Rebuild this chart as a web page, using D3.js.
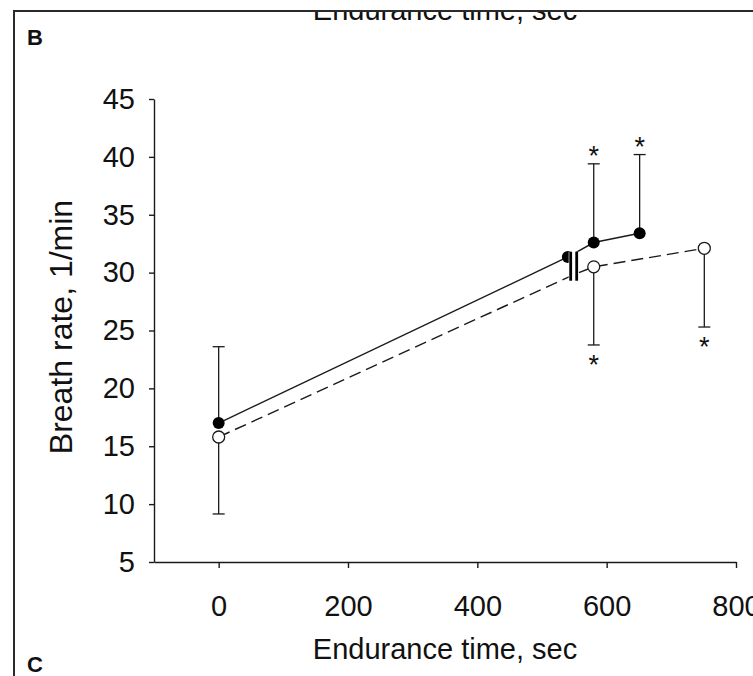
<!DOCTYPE html>
<html>
<head>
<meta charset="utf-8">
<script src="https://cdn.jsdelivr.net/npm/d3@7"></script>
<style>
    body { margin: 0; background: #fff; }
    svg { display: block; font-family: "Liberation Sans", Arial, sans-serif; }
</style>
</head>
<body>
<div id="chart-area" style="width:753px;height:676px;"></div>
<script>

// axis ticks
const xTicks = [0, 200, 400, 600, 800];
const yTicks = [5, 10, 15, 20, 25, 30, 35, 40, 45];

// filled circles, solid line (error bars up)
const filledTime = [0, 540, 580, 651];
const filledRate = [17.0, 31.35, 32.6, 33.4];
const filledErrTop = [23.6, null, 39.4, 40.2];
const filledStar = [false, false, true, true];

// open circles, dashed line (error bars down)
const openTime = [0, 552, 580, 751];
const openRate = [15.8, 29.9, 30.5, 32.1];
const openErrBottom = [9.15, null, 23.75, 25.3];
const openStar = [false, false, true, true];
const openMarker = [true, false, true, true];

// break mark between groups
const breakTime = 549;
const breakRate = [29.3, 31.8];


/* * * * * * * * * * * * * *
*     class BreathChart     *
* * * * * * * * * * * * * */

class BreathChart {

    constructor(parentElement) {
        this.parentElement = parentElement;
        this.initVis();
    }

    initVis() {
        let vis = this;

        vis.width = 753;
        vis.height = 676;
        vis.ink = "#1a1a1a";

        vis.svg = d3.select("#" + vis.parentElement).append("svg")
            .attr("width", vis.width)
            .attr("height", vis.height);

        // scales
        vis.x = d3.scaleLinear().domain([-100, 800]).range([154, 736]);
        vis.y = d3.scaleLinear().domain([5, 45]).range([562, 99]);

        vis.wrangleData();
    }

    wrangleData() {
        let vis = this;

        vis.filled = filledTime.map((t, i) => ({t: t, v: filledRate[i], err: filledErrTop[i], star: filledStar[i], show: true}));
        vis.open = openTime.map((t, i) => ({t: t, v: openRate[i], err: openErrBottom[i], star: openStar[i], show: openMarker[i]}));

        vis.updateVis();
    }

    updateVis() {
        let vis = this;

        // cut-off title from the panel above
        vis.svg.append("text")
            .attr("x", 445).attr("y", 20)
            .attr("text-anchor", "middle")
            .attr("font-size", 29)
            .attr("fill", "#111")
            .text("Endurance time, sec");
        vis.svg.append("rect")
            .attr("x", 0).attr("y", 0).attr("width", vis.width).attr("height", 11)
            .attr("fill", "#fff");

        // panel frame
        vis.svg.append("path")
            .attr("d", "M14,676V11H753")
            .attr("fill", "none")
            .attr("stroke", "#2a2a2a")
            .attr("stroke-width", 2);

        vis.svg.append("text").attr("x", 27).attr("y", 45)
            .attr("font-size", 22).attr("font-weight", "bold").attr("fill", "#111").text("B");
        vis.svg.append("text").attr("x", 27).attr("y", 672)
            .attr("font-size", 22).attr("font-weight", "bold").attr("fill", "#111").text("C");

        // axes
        let xAxis = d3.axisBottom(vis.x).tickValues(xTicks).tickSize(6).tickSizeOuter(0).tickPadding(27);
        let yAxis = d3.axisLeft(vis.y).tickValues(yTicks).tickSize(5).tickSizeOuter(0).tickPadding(14);

        let gx = vis.svg.append("g")
            .attr("transform", "translate(0," + vis.y(5) + ")")
            .call(xAxis);
        let gy = vis.svg.append("g")
            .attr("transform", "translate(" + vis.x(-100) + ",0)")
            .call(yAxis);

        [gx, gy].forEach(g => {
            g.selectAll("path, line").attr("stroke", vis.ink).attr("stroke-width", 1.4);
            g.selectAll("text").attr("font-size", 29).attr("fill", "#111")
                .attr("font-family", "'Liberation Sans', Arial, sans-serif");
        });

        vis.svg.append("text")
            .attr("x", 445).attr("y", 659)
            .attr("text-anchor", "middle")
            .attr("font-size", 29)
            .attr("fill", "#111")
            .text("Endurance time, sec");

        vis.svg.append("text")
            .attr("transform", "translate(72,327) rotate(-90)")
            .attr("text-anchor", "middle")
            .attr("font-size", 32)
            .attr("fill", "#111")
            .text("Breath rate, 1/min");

        // lines
        let line = d3.line().x(d => vis.x(d.t)).y(d => vis.y(d.v));

        vis.svg.append("path")
            .datum(vis.open)
            .attr("d", line)
            .attr("fill", "none")
            .attr("stroke", vis.ink)
            .attr("stroke-width", 1.4)
            .attr("stroke-dasharray", "12,6");

        vis.svg.append("path")
            .datum(vis.filled)
            .attr("d", line)
            .attr("fill", "none")
            .attr("stroke", vis.ink)
            .attr("stroke-width", 1.4);

        // error bars + asterisks
        vis.drawErrors(vis.filled, -1);
        vis.drawErrors(vis.open, 1);

        // markers
        vis.svg.selectAll(".filled-dot")
            .data(vis.filled.filter(d => d.show))
            .enter().append("circle")
            .attr("class", "filled-dot")
            .attr("cx", d => vis.x(d.t))
            .attr("cy", d => vis.y(d.v))
            .attr("r", 6)
            .attr("fill", "#000");

        vis.svg.selectAll(".open-dot")
            .data(vis.open.filter(d => d.show))
            .enter().append("circle")
            .attr("class", "open-dot")
            .attr("cx", d => vis.x(d.t))
            .attr("cy", d => vis.y(d.v))
            .attr("r", 6)
            .attr("fill", "#fff")
            .attr("stroke", vis.ink)
            .attr("stroke-width", 1.3);

        // break mark
        let bx = vis.x(breakTime);
        let by0 = vis.y(breakRate[1]);
        let by1 = vis.y(breakRate[0]);
        vis.svg.append("rect")
            .attr("x", bx - 5).attr("y", by0)
            .attr("width", 10).attr("height", by1 - by0)
            .attr("fill", "#fff");
        [bx - 3, bx + 3].forEach(xx => {
            vis.svg.append("line")
                .attr("x1", xx).attr("x2", xx)
                .attr("y1", by0).attr("y2", by1)
                .attr("stroke", "#000")
                .attr("stroke-width", 2.8);
        });
    }

    drawErrors(data, dir) {
        let vis = this;
        let withErr = data.filter(d => d.err !== null);

        vis.svg.selectAll(null)
            .data(withErr)
            .enter().append("line")
            .attr("x1", d => vis.x(d.t)).attr("x2", d => vis.x(d.t))
            .attr("y1", d => vis.y(d.v)).attr("y2", d => vis.y(d.err))
            .attr("stroke", vis.ink).attr("stroke-width", 1.3);

        vis.svg.selectAll(null)
            .data(withErr)
            .enter().append("line")
            .attr("x1", d => vis.x(d.t) - 6).attr("x2", d => vis.x(d.t) + 6)
            .attr("y1", d => vis.y(d.err)).attr("y2", d => vis.y(d.err))
            .attr("stroke", vis.ink).attr("stroke-width", 1.3);

        vis.svg.selectAll(null)
            .data(withErr.filter(d => d.star))
            .enter().append("text")
            .attr("x", d => vis.x(d.t))
            .attr("y", d => vis.y(d.err) + (dir < 0 ? 1 : 29))
            .attr("text-anchor", "middle")
            .attr("font-size", 27)
            .attr("fill", "#111")
            .text("*");
    }
}

let chart = new BreathChart("chart-area");

</script>
</body>
</html>
